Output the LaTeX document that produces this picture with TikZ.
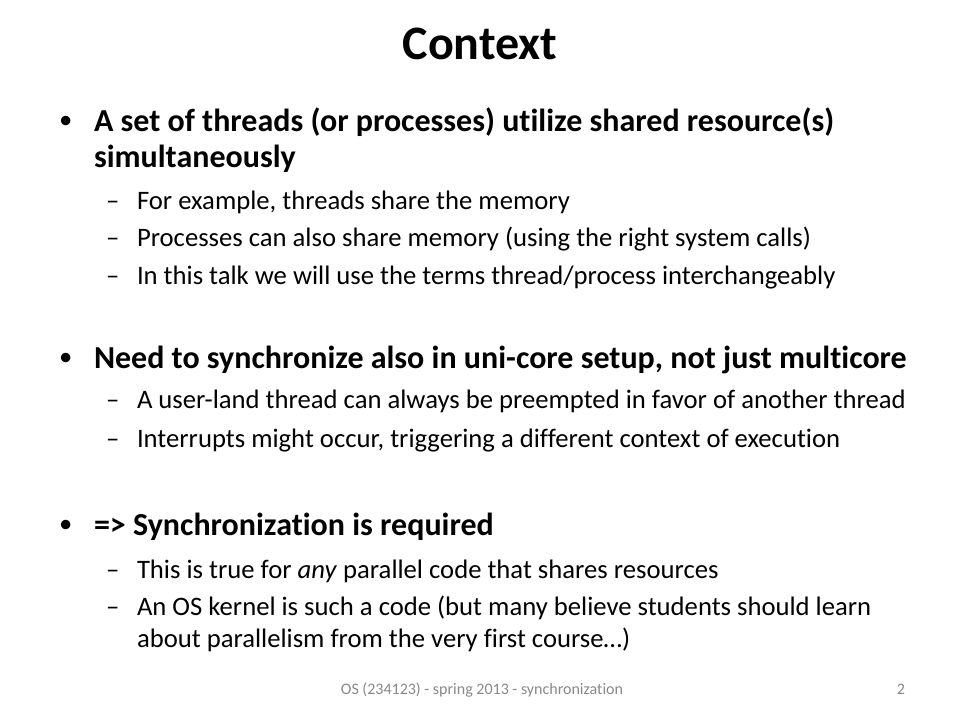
\documentclass[tikz,border=0pt]{standalone}
\usepackage{fontspec}
\setmainfont{Carlito}[Ligatures={NoCommon}]
\definecolor{footgray}{HTML}{898989}
\begin{document}
\begin{tikzpicture}[x=0.75pt,y=-0.75pt,
  every node/.style={inner sep=0pt,outer sep=0pt},
  ttl/.style={font=\fontsize{36}{40}\selectfont\bfseries,anchor=base},
  lone/.style={font=\fontsize{24}{28}\selectfont\bfseries,anchor=base west},
  ltwo/.style={font=\fontsize{20}{24}\selectfont,anchor=base west},
  bul/.style={font=\fontsize{20}{24}\selectfont,anchor=base west},
  foot/.style={font=\fontsize{12}{14}\selectfont,text=footgray,anchor=base}]
\useasboundingbox[fill=white] (0,0) rectangle (960,720);
\node[ttl] (title) at (480,60) {Context};
% bullet 1
\node[bul] (b1) at (59,129) {•};
\node[lone] (t1a) at (94,132) {A set of threads (or processes) utilize shared resource(s)};
\node[lone] (t1b) at (94,168) {simultaneously};
\node[ltwo] (d11) at (106,210) {–};
\node[ltwo] (s11) at (137,210) {For example, threads share the memory};
\node[ltwo] (d12) at (106,247) {–};
\node[ltwo] (s12) at (137,247) {Processes can also share memory (using the right system calls)};
\node[ltwo] (d13) at (106,285) {–};
\node[ltwo] (s13) at (137,285) {In this talk we will use the terms thread/process interchangeably};
% bullet 2
\node[bul] (b2) at (59,365) {•};
\node[lone] (t2) at (94,368) {Need to synchronize also in uni-core setup, not just multicore};
\node[ltwo] (d21) at (106,408) {–};
\node[ltwo] (s21) at (137,408) {A user-land thread can always be preempted in favor of another thread};
\node[ltwo] (d22) at (106,447) {–};
\node[ltwo] (s22) at (137,447) {Interrupts might occur, triggering a different context of execution};
% bullet 3
\node[bul] (b3) at (59,532) {•};
\node[lone] (t3) at (94,535) {=> Synchronization is required};
\node[ltwo] (d31) at (106,578) {–};
\node[ltwo] (s31) at (137,578) {This is true for \emph{any} parallel code that shares resources};
\node[ltwo] (d32) at (106,615) {–};
\node[ltwo] (s32) at (137,615) {An OS kernel is such a code (but many believe students should learn};
\node[ltwo] (s33) at (137,647) {about parallelism from the very first course…)};
% footer
\node[foot] (ft) at (482,694) {OS (234123) - spring 2013 - synchronization};
\node[foot,anchor=base east] (pg) at (905,694) {2};
\end{tikzpicture}
\end{document}
